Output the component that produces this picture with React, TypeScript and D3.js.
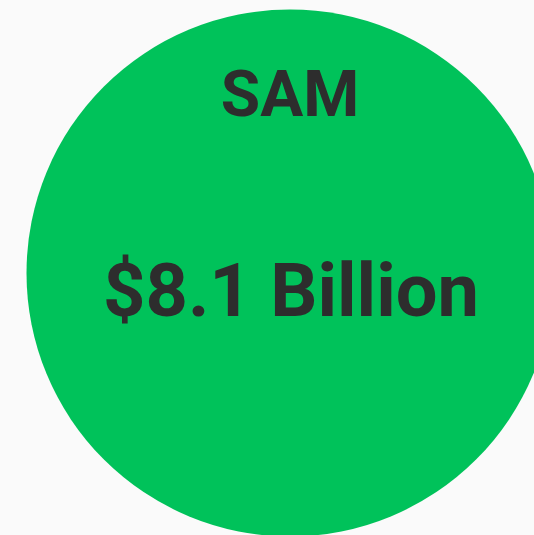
import React, { useMemo } from 'react';
import * as d3 from 'd3';

const categories = ['SAM'];
const values = [8.1];
const valueLabels = ['$8.1 Billion'];

const W = 534;
const H = 535;

export default function App() {
  const r = useMemo(
    () => d3.scaleSqrt().domain([0, d3.max(values) || 1]).range([0, 263.5]),
    []
  );
  const cx = 290;
  const cy = 273;

  return (
    <svg
      width={W}
      height={H}
      style={{ position: 'fixed', left: 0, top: 0, display: 'block' }}
      fontFamily="Roboto, sans-serif"
    >
      <rect width={W} height={H} fill="#fafafa" />
      {categories.map((c, i) => (
        <g key={c}>
          <circle cx={cx} cy={cy} r={r(values[i])} fill="#00c25a" />
          <text
            x={cx}
            y={116}
            textAnchor="middle"
            fontSize={64}
            fontWeight={700}
            fill="#2d2d2d"
          >
            {c}
          </text>
          <text
            x={cx + 1}
            y={316}
            textAnchor="middle"
            fontSize={74}
            fontWeight={700}
            fill="#2d2d2d"
          >
            {valueLabels[i]}
          </text>
        </g>
      ))}
    </svg>
  );
}
